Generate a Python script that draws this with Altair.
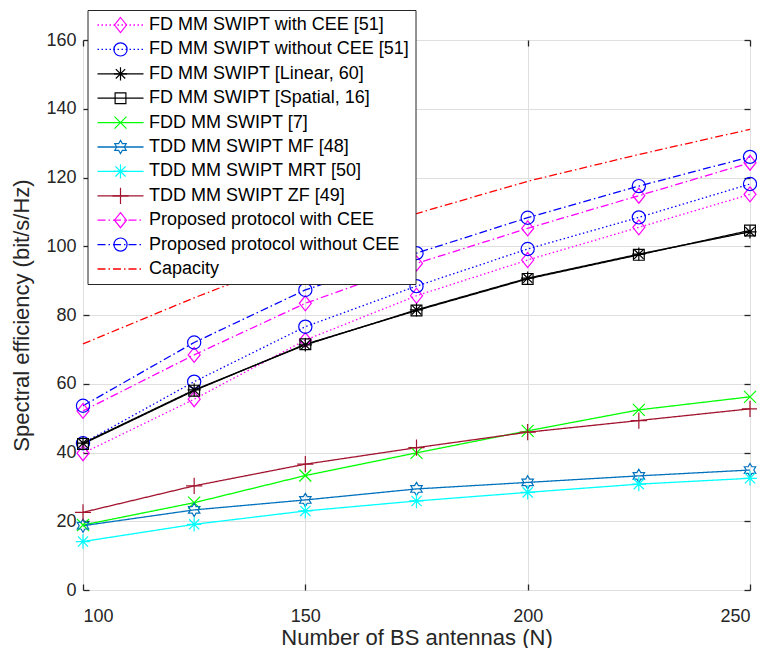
import altair as alt
import pandas as pd

# ---- data ----
N = [100, 125, 150, 175, 200, 225, 250]
series_names = [
    "FD MM SWIPT with CEE [51]",
    "FD MM SWIPT without CEE [51]",
    "FD MM SWIPT [Linear, 60]",
    "FD MM SWIPT [Spatial, 16]",
    "FDD MM SWIPT [7]",
    "TDD MM SWIPT MF [48]",
    "TDD MM SWIPT MRT [50]",
    "TDD MM SWIPT ZF [49]",
    "Proposed protocol with CEE",
    "Proposed protocol without CEE",
    "Capacity",
]
fd_cee = [39.8, 55.5, 72.7, 85.6, 96.0, 105.5, 115.1]
fd_nocee = [42.7, 60.6, 76.6, 88.4, 99.2, 108.4, 118.1]
fd_linear = [42.7, 58.2, 71.3, 81.5, 90.7, 97.7, 104.2]
fd_spatial = [42.5, 58.0, 71.5, 81.3, 90.5, 97.5, 104.6]
fdd = [18.9, 25.4, 33.3, 39.9, 46.3, 52.4, 56.2]
tdd_mf = [18.7, 23.3, 26.2, 29.4, 31.3, 33.2, 34.9]
tdd_mrt = [14.1, 19.1, 23.0, 25.9, 28.4, 30.8, 32.5]
tdd_zf = [22.6, 30.3, 36.6, 41.4, 45.9, 49.3, 52.7]
prop_cee = [52.1, 68.4, 83.4, 95.0, 105.2, 114.7, 124.3]
prop_nocee = [53.6, 72.0, 87.3, 98.0, 108.3, 117.5, 126.0]
capacity = [71.6, 85.0, 97.5, 109.5, 118.9, 126.7, 134.0]

all_values = [fd_cee, fd_nocee, fd_linear, fd_spatial, fdd, tdd_mf, tdd_mrt,
              tdd_zf, prop_cee, prop_nocee, capacity]

x_ticks = [100, 150, 200, 250]
y_ticks = [0, 20, 40, 60, 80, 100, 120, 140, 160]

# ---- styles ----
colors = ["#FF00FF", "#0000FF", "#000000", "#000000", "#00FF00", "#0072BD",
          "#00FFFF", "#A2142F", "#FF00FF", "#0000FF", "#FF0000"]
DOT = [1.5, 2.5]
DASHDOT = [8, 3, 1.5, 3]
SOLID = [1, 0]
dashes = [DOT, DOT, SOLID, SOLID, SOLID, SOLID, SOLID, SOLID, DASHDOT, DASHDOT, DASHDOT]

diamond = "M0,-1.25L1,0L0,1.25L-1,0Z"
circle = "M1.1,0A1.1,1.1,0,1,1,-1.1,0A1.1,1.1,0,1,1,1.1,0Z"
asterisk = "M-1.1,0H1.1M0,-1.1V1.1M-0.78,-0.78L0.78,0.78M-0.78,0.78L0.78,-0.78"
square = "M-0.9,-0.9H0.9V0.9H-0.9Z"
xmark = "M-1,-1L1,1M-1,1L1,-1"
hexagram = ("M0,-1.1L0.318,-0.55L0.953,-0.55L0.635,0L0.953,0.55L0.318,0.55L0,1.1"
            "L-0.318,0.55L-0.953,0.55L-0.635,0L-0.953,-0.55L-0.318,-0.55Z")
asterisk2 = "M-1.2,0H1.2M0,-1.2V1.2M-0.85,-0.85L0.85,0.85M-0.85,0.85L0.85,-0.85"
plus = "M-1.35,0H1.35M0,-1.35V1.35"
nomark = "M0,0"
shapes = [diamond, circle, asterisk, square, xmark, hexagram, asterisk2, plus,
          diamond, circle, nomark]

rows = []
for name, vals in zip(series_names, all_values):
    for n, v in zip(N, vals):
        rows.append({"N": n, "value": v, "series": name})
df = pd.DataFrame(rows)

FONT = "Liberation Sans"
AX = "#262626"
LEG_FS = 18

x_main = alt.X("N:Q", scale=alt.Scale(domain=[100, 250], nice=False, zero=False),
               axis=alt.Axis(values=x_ticks, orient="bottom", offset=-6, tickSize=6,
                             tickWidth=1.3, tickColor=AX, domain=False, grid=True,
                             gridColor="#dfdfdf", gridWidth=1, labelFont=FONT,
                             labelFontSize=18, labelColor=AX, labelPadding=17,
                             title="Number of BS antennas (N)", titleFont=FONT,
                             titleFontSize=22, titleFontWeight="normal",
                             titleColor=AX, titlePadding=2))
y_main = alt.Y("value:Q", scale=alt.Scale(domain=[0, 160], nice=False),
               axis=alt.Axis(values=y_ticks, orient="left", offset=-6, tickSize=6,
                             tickWidth=1.3, tickColor=AX, domain=False, grid=True,
                             gridColor="#dfdfdf", gridWidth=1, labelFont=FONT,
                             labelFontSize=18, labelColor=AX, labelPadding=7,
                             title="Spectral efficiency (bit/s/Hz)", titleFont=FONT,
                             titleFontSize=22, titleFontWeight="normal",
                             titleColor=AX, titlePadding=12))

x_top = alt.X("N:Q", scale=alt.Scale(domain=[100, 250], nice=False, zero=False),
              axis=alt.Axis(values=x_ticks, orient="top", offset=-6, tickSize=6,
                            tickWidth=1.3, tickColor=AX, domain=False, grid=False,
                            labels=False, title=None))
y_right = alt.Y("value:Q", scale=alt.Scale(domain=[0, 160], nice=False),
                axis=alt.Axis(values=y_ticks, orient="right", offset=-6, tickSize=6,
                              tickWidth=1.3, tickColor=AX, domain=False, grid=False,
                              labels=False, title=None))

LX, LY = 4.5, -30


def line_legend():
    return alt.Legend(title=None, orient="none", legendX=LX, legendY=LY,
                      symbolType="M-4.6,0H4.6", symbolSize=100,
                      symbolStrokeWidth=1.3, symbolOffset=18, clipHeight=18,
                      labelOffset=19.5, labelFont=FONT, labelFontSize=LEG_FS,
                      labelColor="black", labelLimit=500, padding=6,
                      rowPadding=6.4, fillColor="white", strokeColor=AX, zindex=5)


def marker_legend():
    return alt.Legend(title=None, orient="none", legendX=LX, legendY=LY,
                      symbolSize=144, symbolStrokeWidth=1.2, symbolOffset=18,
                      clipHeight=18, labelOffset=19.5, labelFont=FONT,
                      labelFontSize=LEG_FS, labelOpacity=0, labelLimit=500,
                      padding=6, rowPadding=6.4, zindex=6)


lines = alt.Chart(df).mark_line(strokeWidth=1.3).encode(
    x=x_main,
    y=y_main,
    color=alt.Color("series:N", scale=alt.Scale(domain=series_names, range=colors),
                    legend=line_legend()),
    strokeDash=alt.StrokeDash("series:N",
                              scale=alt.Scale(domain=series_names, range=dashes),
                              legend=line_legend()),
    order=alt.Order("N:Q"),
)

points = alt.Chart(df).transform_filter(
    alt.datum.series != "Capacity"
).mark_point(filled=False, size=144, strokeWidth=1.2, opacity=1).encode(
    x=x_top,
    y=y_right,
    color=alt.Color("series:N", scale=alt.Scale(domain=series_names, range=colors),
                    legend=marker_legend()),
    shape=alt.Shape("series:N", scale=alt.Scale(domain=series_names, range=shapes),
                    legend=marker_legend()),
)

chart = alt.layer(lines, points).resolve_scale(
    x="independent", y="independent", color="independent",
    shape="independent", strokeDash="independent"
).properties(
    width=667, height=550,
    autosize=alt.AutoSizeParams(type="none"),
    padding={"left": 75, "top": 32, "right": 7, "bottom": 58},
).configure_view(stroke=AX, strokeWidth=1.5).configure(background="white")

chart.save("out.html", embed_options={"renderer": "svg", "actions": False})
